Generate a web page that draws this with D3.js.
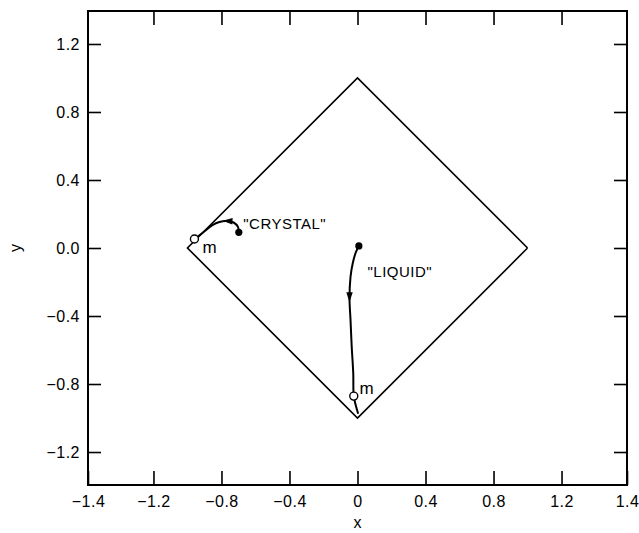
<!DOCTYPE html>
<html>
<head>
<meta charset="utf-8">
<script src="https://cdn.jsdelivr.net/npm/d3@7"></script>
<style>
  body { margin: 0; background: #fff; }
  text { font-family: "Liberation Sans", Arial, sans-serif; fill: #000; }
</style>
</head>
<body>
<div class="content"></div>
<script>
// Axis ranges and tick labels (the end labels sit on the frame edges)
var xDomain = [-1.585, 1.585],
    yDomain = [-1.394, 1.394];
var xTickValues = [-1.585, -1.2, -0.8, -0.4, 0, 0.4, 0.8, 1.2, 1.585];
var xTickLabels = ["\u22121.4", "\u22121.2", "\u22120.8", "\u22120.4", "0", "0.4", "0.8", "1.2", "1.4"];
var yTickValues = [1.2, 0.8, 0.4, 0, -0.4, -0.8, -1.2];
var yTickLabels = ["1.2", "0.8", "0.4", "0.0", "\u22120.4", "\u22120.8", "\u22121.2"];

// The square |x| + |y| = 1
var diamondX = [1, 0, -1, 0, 1];
var diamondY = [0, 1, 0, -1, 0];

// "Crystal" trajectory: start (filled dot) -> minimum m (open dot)
var crystalX = [-0.698, -0.703, -0.729, -0.771, -0.812, -0.853, -0.912, -0.959];
var crystalY = [0.092, 0.124, 0.150, 0.159, 0.153, 0.135, 0.088, 0.053];

// "Liquid" trajectory: start (filled dot) -> minimum m (open dot) -> corner
var liquidX = [0.008, -0.012, -0.028, -0.041, -0.047, -0.041, -0.034, -0.025, -0.022, -0.008, 0.004];
var liquidY = [0.012, -0.031, -0.090, -0.169, -0.296, -0.424, -0.581, -0.737, -0.871, -0.934, -0.975];
var liquidM = [-0.022, -0.871];

// Text annotations, anchored in data coordinates
var labelText = ["\"CRYSTAL\"", "m", "\"LIQUID\"", "m"];
var labelX = [-0.672, -0.912, 0.059, 0.012];
var labelY = [0.112, -0.03, -0.171, -0.859];

// Set the dimensions and margins of the graph
var margin = {top: 11, right: 12, bottom: 48, left: 88},
    width = 639 - margin.left - margin.right,
    height = 533 - margin.top - margin.bottom;

var svg = d3.select(".content").append("svg")
    .attr("width", width + margin.left + margin.right)
    .attr("height", height + margin.top + margin.bottom)
  .append("g")
    .attr("transform", "translate(" + margin.left + "," + margin.top + ")");

var x = d3.scaleLinear().domain(xDomain).range([0, width]);
var y = d3.scaleLinear().domain(yDomain).range([height, 0]);

// Axes with inward ticks
var bottomAxis = svg.append("g")
    .attr("transform", "translate(0," + height + ")")
    .call(d3.axisBottom(x)
      .tickValues(xTickValues)
      .tickSize(-14)
      .tickPadding(11)
      .tickFormat(function(d, i) { return xTickLabels[i]; }));

svg.append("g")
    .call(d3.axisTop(x).tickValues(xTickValues.slice(1, -1)).tickSize(-14).tickFormat(""));

svg.append("g")
    .call(d3.axisLeft(y)
      .tickValues(yTickValues)
      .tickSize(-13)
      .tickPadding(8)
      .tickFormat(function(d, i) { return yTickLabels[i]; }));

svg.append("g")
    .attr("transform", "translate(" + width + ",0)")
    .call(d3.axisRight(y).tickValues(yTickValues).tickSize(-13).tickFormat(""));

svg.selectAll(".domain").remove();
svg.selectAll(".tick line").attr("stroke", "#000").attr("stroke-width", 1.6);
svg.selectAll(".tick text")
    .style("font-size", "16px")
    .style("letter-spacing", "0.5px")
    .attr("fill", "#000");

// frame
svg.append("rect")
    .attr("width", width)
    .attr("height", height)
    .attr("fill", "none")
    .attr("stroke", "#000")
    .attr("stroke-width", 2);

// axis titles
svg.append("text")
    .attr("x", x(0))
    .attr("y", height + 43)
    .attr("text-anchor", "middle")
    .style("font-size", "16px")
    .text("x");

svg.append("text")
    .attr("transform", "translate(" + (-67) + "," + y(0) + ") rotate(-90)")
    .attr("text-anchor", "middle")
    .style("font-size", "16px")
    .text("y");

// diamond
var line = d3.line()
    .x(function(d) { return x(d[0]); })
    .y(function(d) { return y(d[1]); });

svg.append("path")
    .attr("d", line(d3.zip(diamondX, diamondY)))
    .attr("fill", "none")
    .attr("stroke", "#000")
    .attr("stroke-width", 1.6)
    .attr("stroke-linejoin", "miter");

// trajectories
var curve = d3.line()
    .x(function(d) { return x(d[0]); })
    .y(function(d) { return y(d[1]); })
    .curve(d3.curveCatmullRom);

function trajectory(xs, ys, mPoint, arrowAt) {
  var pts = d3.zip(xs, ys);
  var path = svg.append("path")
      .attr("d", curve(pts))
      .attr("fill", "none")
      .attr("stroke", "#000")
      .attr("stroke-width", 2);

  // arrow head along the path, pointing in the direction of travel
  var node = path.node(),
      len = node.getTotalLength(),
      p = node.getPointAtLength(len * arrowAt),
      q = node.getPointAtLength(len * arrowAt + 1),
      angle = Math.atan2(q.y - p.y, q.x - p.x) * 180 / Math.PI;
  svg.append("path")
      .attr("d", "M5,0L-5,-3.2L-5,3.2Z")
      .attr("transform", "translate(" + p.x + "," + p.y + ") rotate(" + angle + ")")
      .attr("fill", "#000");

  // start point
  svg.append("circle")
      .attr("cx", x(pts[0][0]))
      .attr("cy", y(pts[0][1]))
      .attr("r", 3.6)
      .attr("fill", "#000");

  // minimum m
  svg.append("circle")
      .attr("cx", x(mPoint[0]))
      .attr("cy", y(mPoint[1]))
      .attr("r", 4)
      .attr("fill", "#fff")
      .attr("stroke", "#000")
      .attr("stroke-width", 1.4);
}

trajectory(crystalX, crystalY, [crystalX[crystalX.length - 1], crystalY[crystalY.length - 1]], 0.32);
trajectory(liquidX, liquidY, liquidM, 0.31);

// labels
svg.selectAll("myLabels")
    .data(labelText)
    .enter()
    .append("text")
      .attr("x", function(d, i) { return x(labelX[i]); })
      .attr("y", function(d, i) { return y(labelY[i]); })
      .style("font-size", function(d) { return d === "m" ? "17px" : "15px"; })
      .style("letter-spacing", function(d) { return d === "m" ? "0px" : "0.5px"; })
      .text(function(d) { return d; });
</script>
</body>
</html>
